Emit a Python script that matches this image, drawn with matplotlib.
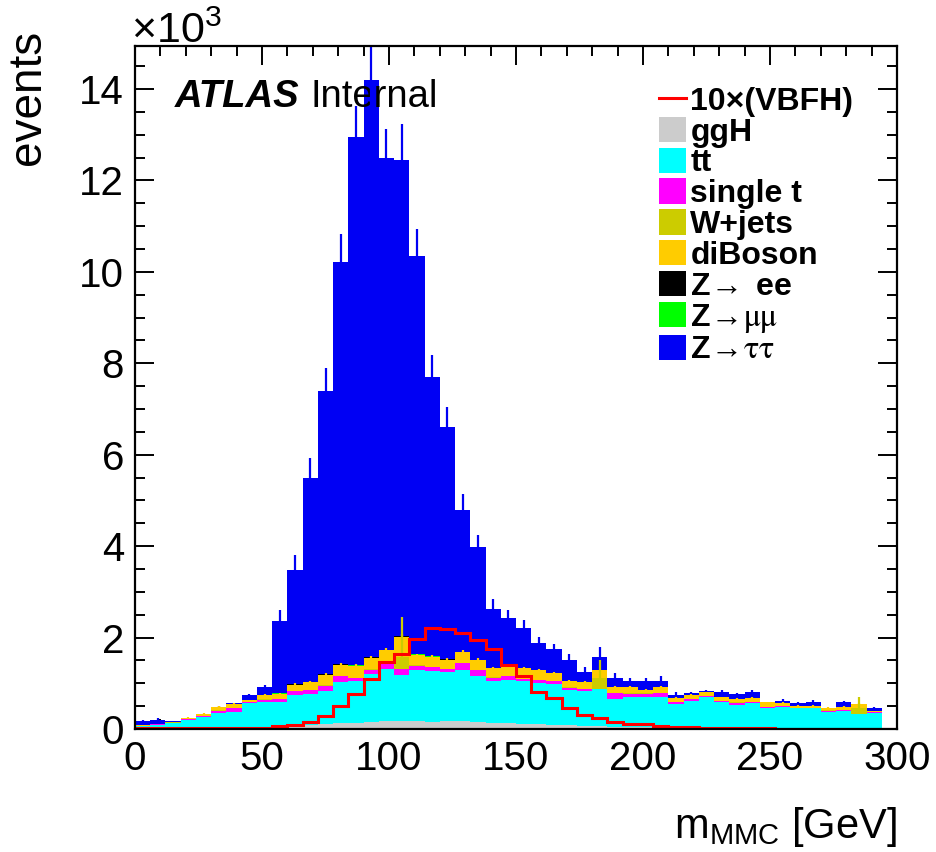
import numpy as np
import matplotlib.pyplot as plt
from matplotlib.patches import Patch
from matplotlib.lines import Line2D
from matplotlib.ticker import MultipleLocator
from matplotlib.font_manager import FontProperties

plt.rcParams["font.family"] = ["Liberation Sans", "DejaVu Sans"]
plt.rcParams["mathtext.fontset"] = "custom"
plt.rcParams["mathtext.rm"] = "Liberation Sans"
plt.rcParams["mathtext.default"] = "regular"

# m_MMC bins, 6 GeV wide, values in 10^3 events
edges = np.arange(0, 301, 6)

ggh = [.01, .01, .01, .01, .01, .01, .01, .01, .01, .03,
       .05, .08, .10, .13, .14, .16, .17, .17, .17, .16,
       .17, .17, .16, .14, .13, .12, .10, .09, .08, .07,
       .06, .05, .05, .04, .03, .02, .02, .02, .02, .01,
       .01, .01, .01, .01, .01, .01, .01, .01, .01, 0]
ttbar = [.05, .08, .12, .19, .25, .35, .37, .55, .59, .57,
         .69, .69, .74, .89, .90, 1.04, 1.15, 1.02, 1.11, 1.10,
         1.07, 1.11, 1.01, .90, .94, .92, .90, .90, .78, .77,
         .81, .61, .66, .66, .66, .52, .60, .67, .56, .52,
         .55, .46, .48, .44, .44, .37, .39, .31, .35, 0]
single_t = [.01, .01, .01, .01, .02, .04, .07, .03, .04, .05,
            .09, .08, .11, .13, .07, .10, .13, .12, .10, .09,
            .07, .16, .12, .08, .08, .05, .07, .05, .04, .03,
            .01, .12, .06, .07, .09, .04, .03, .03, .03, .04,
            .02, .01, .01, .01, .01, .02, .01, .01, .01, 0]
wjets = [0, 0, .005, .01, .01, .01, .01, .01, .01, .01,
         .01, .01, .01, .01, .01, .01, .01, .27, .01, .01,
         .01, .01, .01, .01, .01, .01, .01, .01, .01, .01,
         .24, .01, .01, .01, .01, .01, .01, .01, .01, .01,
         .01, .01, .01, .01, .01, .01, .01, .14, .01, 0]
diboson = [.01, .01, .015, .03, .04, .07, .09, .03, .09, .11,
           .13, .16, .23, .25, .26, .25, .26, .44, .23, .22,
           .20, .23, .22, .20, .19, .23, .20, .17, .14, .14,
           .16, .12, .13, .08, .12, .08, .08, .07, .07, .07,
           .08, .09, .05, .03, .03, .06, .07, .08, .01, 0]
zee = [0, 0, 0, 0, 0, 0, 0, 0, 0, .005,
       .005, .005, .005, .005, .005, .005, .005, .005, .005, .005,
       .005, .005, 0, 0, 0, 0, 0, 0, 0, 0,
       0, 0, 0, 0, 0, 0, 0, 0, 0, 0,
       0, 0, 0, 0, 0, 0, 0, 0, 0, 0]
zmumu = [0, 0, 0, 0, 0, 0, 0, 0, 0, .005,
         .005, .005, .005, .005, .005, .005, .005, .005, .005, .005,
         .005, .005, 0, 0, 0, 0, 0, 0, 0, 0,
         0, 0, 0, 0, 0, 0, 0, 0, 0, 0,
         0, 0, 0, 0, 0, 0, 0, 0, 0, 0]
ztautau = [.095, .09, .005, 0, 0, .01, .01, .11, .18, 1.59,
           2.50, 4.47, 6.20, 8.80, 11.56, 12.63, 10.77, 10.42, 8.72, 6.11,
           5.07, 3.11, 2.46, 1.30, 1.08, .88, .61, .52, .46, .23,
           .29, .21, .13, .18, .15, .07, .04, .03, .11, .11,
           .13, 0, .05, .06, .08, 0, .09, 0, .08, 0]
vbfh = [.002, .002, .002, .002, .002, .002, .002, .002, .002, .006,
        .009, .016, .029, .050, .077, .109, .147, .164, .197, .221,
        .218, .210, .194, .176, .140, .116, .080, .067, .047, .031,
        .023, .016, .011, .010, .007, .005, .004, .003, .003, .002,
        .002, .0015, .001, .001, .001, .001, .001, .001, .001, 0]

# statistical errors drawn at the top of each stacked component
ztautau_err = [.03, .04, 0, 0, 0, .01, .01, .03, .05, .24,
               .33, .42, .50, .60, .67, .75, .63, .78, .58, .48,
               .44, .35, .27, .22, .18, .18, .13, .12, .13, .11,
               .23, .11, .07, .07, .09, .06, .02, .03, .05, .03,
               .06, 0, .04, .03, .05, 0, .04, 0, .02, 0]
wjets_err = [0, 0, 0, 0, 0, 0, 0, 0, 0, 0,
             0, 0, 0, 0, 0, 0, 0, .88, 0, 0,
             0, 0, 0, 0, 0, 0, 0, 0, 0, 0,
             .39, 0, 0, 0, 0, 0, 0, 0, 0, 0,
             0, 0, 0, 0, 0, 0, 0, .22, 0, 0]
diboson_err = [0, 0, 0, .01, .01, .02, .02, .01, .02, .02,
               .03, .03, .03, .04, .04, .04, .05, .05, .03, .03,
               .03, .04, .03, .03, .03, .03, .03, .03, .02, .02,
               .02, .02, .02, .02, .02, .02, .02, .02, .02, .02,
               .02, .02, .02, .02, .02, .02, .02, .02, .01, 0]

labels = ["ggH", "tt", "single t", "W+jets", "diBoson",
          r"Z$\!{\rightarrow}$ ee", r"Z$\!{\rightarrow}\!\mathrm{\mu\mu}$",
          r"Z$\!{\rightarrow}\!\mathrm{\tau\tau}$"]
colors = ["#cccccc", "#00ffff", "#ff00ff", "#cccc00", "#ffcc00",
          "#000000", "#00ff00", "#0000f4"]
components = [ggh, ttbar, single_t, wjets, diboson, zee, zmumu, ztautau]
errors = {7: ztautau_err, 4: diboson_err, 3: wjets_err}

fig = plt.figure(figsize=(9.36, 8.52), dpi=100)
ax = fig.add_axes([135 / 936, 1 - 729 / 852, 762 / 936, 683 / 852])

centers = 0.5 * (edges[:-1] + edges[1:])
cum = np.cumsum(np.array(components, dtype=float), axis=0)

# ROOT-like: draw the full stack first, then each lower sum on top of it
for i in reversed(range(len(components))):
    z = 2 + (len(components) - i)
    ax.stairs(cum[i], edges, baseline=0, fill=True, color=colors[i],
              lw=0, zorder=z)
    if i in errors:
        err = np.array(errors[i])
        ax.vlines(centers, cum[i] - err, cum[i] + err, color=colors[i],
                  lw=1.6, zorder=z + 0.5)

ax.stairs(10 * np.array(vbfh), edges, baseline=None, color="#ff0000",
          lw=2.2, zorder=20)

ax.set_xlim(0, 300)
ax.set_ylim(0, 14.94)
ax.xaxis.set_major_locator(MultipleLocator(50))
ax.xaxis.set_minor_locator(MultipleLocator(10))
ax.yaxis.set_major_locator(MultipleLocator(2))
ax.yaxis.set_minor_locator(MultipleLocator(0.5))
ax.tick_params(which="both", direction="in", top=True, right=True,
               width=1.4, labelsize=29, pad=8)
ax.tick_params(which="major", length=14)
ax.tick_params(which="minor", length=7)
for s in ax.spines.values():
    s.set_linewidth(1.6)
    s.set_zorder(30)

fig.text(131 / 936, 1 - 43 / 852, "\u00d710$^{3}$", fontsize=31,
         ha="left", va="baseline")
fig.text(28 / 936, 1 - 30 / 852, "events", fontsize=33, rotation=90,
         ha="center", va="top")
fig.text(897 / 936, 1 - 838 / 852, "m$_{MMC}$ [GeV]", fontsize=30,
         ha="right", va="baseline")

ax.text(0.0525, 0.9107, "ATLAS", transform=ax.transAxes, fontsize=27.5,
        fontweight="bold", fontstyle="italic", va="baseline")
ax.text(0.2297, 0.9107, "Internal", transform=ax.transAxes, fontsize=27.5,
        va="baseline")

handles = [Line2D([], [], color="#ff0000", lw=2.2)]
handles += [Patch(facecolor=c, edgecolor="none") for c in colors]
leg_font = FontProperties(family=["Liberation Sans", "DejaVu Sans"],
                          weight="bold", size=23, math_fontfamily="stix")
leg = ax.legend(handles, ["10\u00d7(VBFH)"] + labels, loc="upper left",
                bbox_to_anchor=(659 / 936, 1 - 86 / 852),
                bbox_transform=fig.transFigure, frameon=False,
                prop=leg_font,
                handlelength=0.85, handleheight=0.85, handletextpad=0.13,
                labelspacing=0.0, borderpad=0, borderaxespad=0)
leg.set_zorder(40)

fig.savefig("out.png", dpi=100)
